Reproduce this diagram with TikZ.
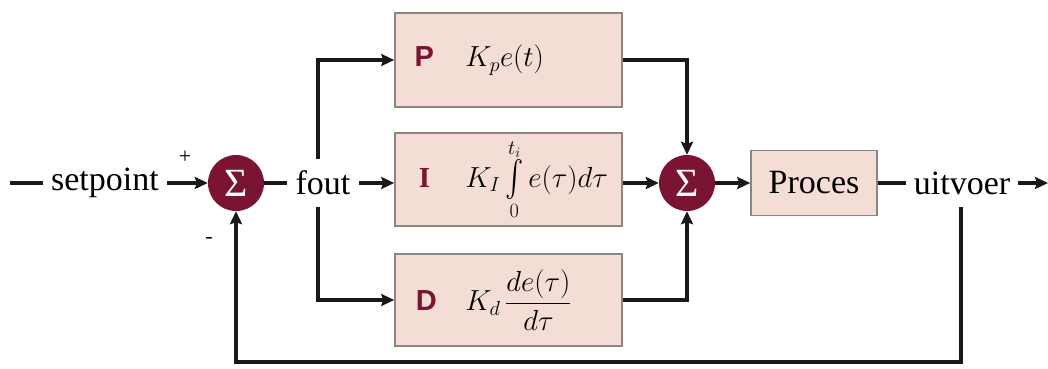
\RequirePackage{fix-cm}
\documentclass[tikz,border=0pt]{standalone}
\usepackage{exscale}
\usepackage{graphicx}
\usepackage{fontspec}
\setmainfont{Liberation Serif}
\newfontfamily\lettersf{Liberation Sans}
\usetikzlibrary{arrows.meta}
\definecolor{sigred}{HTML}{7A1432}
\definecolor{blkfill}{HTML}{F3DDD4}
\definecolor{blkline}{HTML}{8A8482}
\newcommand{\termP}[1]{\makebox[20pt][c]{\color{sigred}\lettersf\bfseries #1}}
\newcommand{\termI}[1]{\makebox[20pt][c]{\color{sigred}\bfseries #1}}
\newcommand{\tallint}{\mathop{\vcenter{\hbox{\scalebox{1.1}[1.45]{$\int$}}}}\limits}
\begin{document}
\begin{tikzpicture}[x=1pt,y=-1pt,
  wire/.style={line width=3.6pt,black!90},
  arr/.style={wire,-{Stealth[length=13pt,width=12pt,inset=2pt]}},
  sum/.style={circle,fill=sigred,minimum size=56pt,inner sep=0pt,
    text=white,font=\fontsize{40}{42}\selectfont},
  blk/.style={draw=blkline,line width=1.6pt,fill=blkfill,inner sep=0pt},
  txt/.style={font=\fontsize{34}{36}\selectfont,inner xsep=8pt,inner ysep=0pt,minimum height=48pt},
  lab/.style={font=\fontsize{29}{31}\selectfont,inner sep=0pt},
  sgn/.style={font=\fontsize{22}{24}\selectfont,inner sep=0pt}
]
\useasboundingbox[fill=white] (0,0) rectangle (1048,368);

% summing junctions
\node[sum] (s1) at (236,183) {Σ};
\node[sum] (s2) at (687,183) {Σ};

% controller branches
\node[blk,minimum width=227pt,minimum height=94pt] (P) at (508.5,60) {};
\node[blk,minimum width=227pt,minimum height=93pt] (I) at (508.5,179.5) {};
\node[blk,minimum width=227pt,minimum height=92pt] (D) at (508.5,300) {};
\node[lab,anchor=west] (Pt) at ([xshift=20pt]P.west) {\termP{P}\hspace{31pt}$K_p e(t)$};
\node[lab,anchor=west] (It) at ([xshift=20pt]I.west) {\termI{I}\hspace{31pt}$K_I\tallint_0^{t_i} e(\tau)d\tau$};
\node[lab,anchor=west] (Dt) at ([xshift=22pt]D.west) {\termP{D}\hspace{29pt}$\displaystyle K_d\,\frac{de(\tau)}{d\tau}$};

% plant
\node[blk,minimum width=126pt,minimum height=65pt,font=\fontsize{34}{36}\selectfont] (Pr) at (814,183) {Proces};

% signal labels
\node[txt] (sp) at (105,183) {setpoint};
\node[txt] (fo) at (323,183) {fout};
\node[txt] (out) at (962,183) {uitvoer};
\node[sgn] (plus) at (185,157) {+};
\node[sgn] (minus) at (209,240) {-};

% helper points
\coordinate (inl) at (10,183);
\coordinate (end) at (1048,183);
\coordinate (br) at (318,183);
\coordinate (fb) at (961,362);

% forward path
\draw[wire] (inl) -- (sp);
\draw[arr] (sp) -- (s1);
\draw[wire] (s1) -- (fo);
\draw[arr] (fo.east) -- (fo.east -| I.west);
\draw[arr] (fo.north -| br) |- (P.west);
\draw[arr] (fo.south -| br) |- (D.west);
\draw[arr] (P.east) -| (s2.north);
\draw[arr] (I.east |- s2) -- (s2);
\draw[arr] (D.east) -| (s2.south);
\draw[arr] (s2) -- (Pr);
\draw[wire] (Pr) -- (out);
\draw[arr] (out) -- (end);

% feedback
\draw[arr] (out.south -| fb) -- (fb) -| (s1.south);
\end{tikzpicture}
\end{document}
